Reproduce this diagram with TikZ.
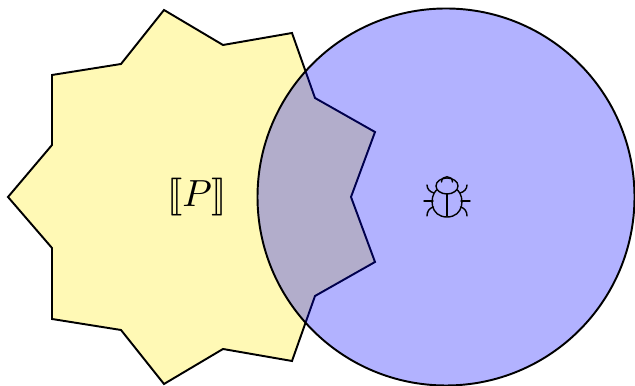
\documentclass[tikz,border=0pt]{standalone}
\usepackage{stmaryrd}
\tikzset{outline/.style={line width=1.1pt,line join=miter},
bugline/.style={line width=.8pt,line cap=round}}
\definecolor{progfill}{HTML}{FFF9B5}
\begin{document}
\begin{tikzpicture}
\useasboundingbox(0,0)rectangle(12.7,7.72);
\draw[outline,fill=progfill](.16,3.78)--(1.04,4.82)--(1.04,6.22)--(2.42,6.44)--(3.28,7.52)--(4.46,6.82)--(5.84,7.06)--(6.3,5.76)--(7.5,5.08)--(7.02,3.78)--(7.5,2.48)--(6.3,1.8)--(5.84,.5)--(4.46,.74)--(3.28,.04)--(2.42,1.12)--(1.04,1.34)--(1.04,2.76)--cycle;
\fill[blue,opacity=.3](8.92,3.78)circle(3.77);
\draw[outline](8.92,3.78)circle(3.77);
\node[scale=2.15](prog)at(3.94,3.78){$\llbracket P\rrbracket$};
% bug
\begin{scope}[shift={(8.94,3.78)},bugline]
\draw(0,.22)ellipse(.22 and .16);
\draw(-.11,.3)..controls(-.11,.44)and(.11,.44)..(.11,.3);
\draw(-.21,.14)..controls(-.36,0)and(-.34,-.4)..(0,-.4)..controls(.34,-.4)and(.36,0)..(.21,.14);
\draw(0,.06)--(0,-.38);
\draw(-.46,-.08)--(-.28,-.08);
\draw(.28,-.08)--(.46,-.08);
\draw(-.26,.08)..controls(-.34,.1)and(-.4,.16)..(-.4,.24);
\draw(.26,.08)..controls(.34,.1)and(.4,.16)..(.4,.24);
\draw(-.27,-.2)..controls(-.36,-.22)and(-.4,-.3)..(-.4,-.38);
\draw(.27,-.2)..controls(.36,-.22)and(.4,-.3)..(.4,-.38);
\end{scope}
\end{tikzpicture}
\end{document}
